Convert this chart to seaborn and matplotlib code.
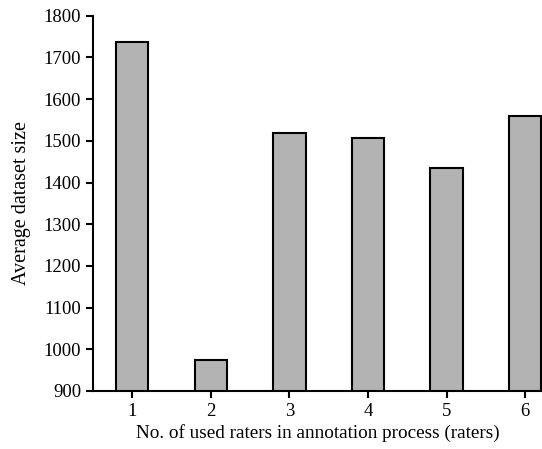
import matplotlib
matplotlib.use("Agg")
import matplotlib.pyplot as plt
import seaborn as sns
import pandas as pd

raters = ["1", "2", "3", "4", "5", "6"]
avg_size = [1738, 974, 1519, 1506, 1435, 1560]
y_ticks = [900, 1000, 1100, 1200, 1300, 1400, 1500, 1600, 1700, 1800]

sns.set_style("ticks")
plt.rcParams['font.family'] = ['Liberation Serif', 'DejaVu Serif']
plt.rcParams['text.color'] = 'black'
plt.rcParams['axes.labelcolor'] = 'black'
plt.rcParams['xtick.color'] = 'black'
plt.rcParams['ytick.color'] = 'black'

df = pd.DataFrame({"raters": raters, "size": avg_size})

fig = plt.figure(figsize=(5.42, 4.49), dpi=100)
ax = fig.add_axes([0.1716, 0.1292, 0.8284, 0.8358])
sns.barplot(data=df, x="raters", y="size", ax=ax, color="#b3b3b3",
            saturation=1, width=0.41, edgecolor="black", linewidth=1.5)
ax.set_ylim(900, 1800)
ax.set_yticks(y_ticks)
ax.set_xlim(-0.5, 5.215)
ax.set_xlabel("No. of used raters in annotation process (raters)", fontsize=13.8,
              labelpad=3)
ax.set_ylabel("Average dataset size", fontsize=14.5, labelpad=9)
ax.tick_params(axis="both", labelsize=13.5, width=1.5, length=5,
               color="black", labelcolor="black")
for s in ["top", "right"]:
    ax.spines[s].set_visible(False)
for s in ["left", "bottom"]:
    ax.spines[s].set_linewidth(1.5)
    ax.spines[s].set_color("black")
fig.savefig("out.png", dpi=100)
